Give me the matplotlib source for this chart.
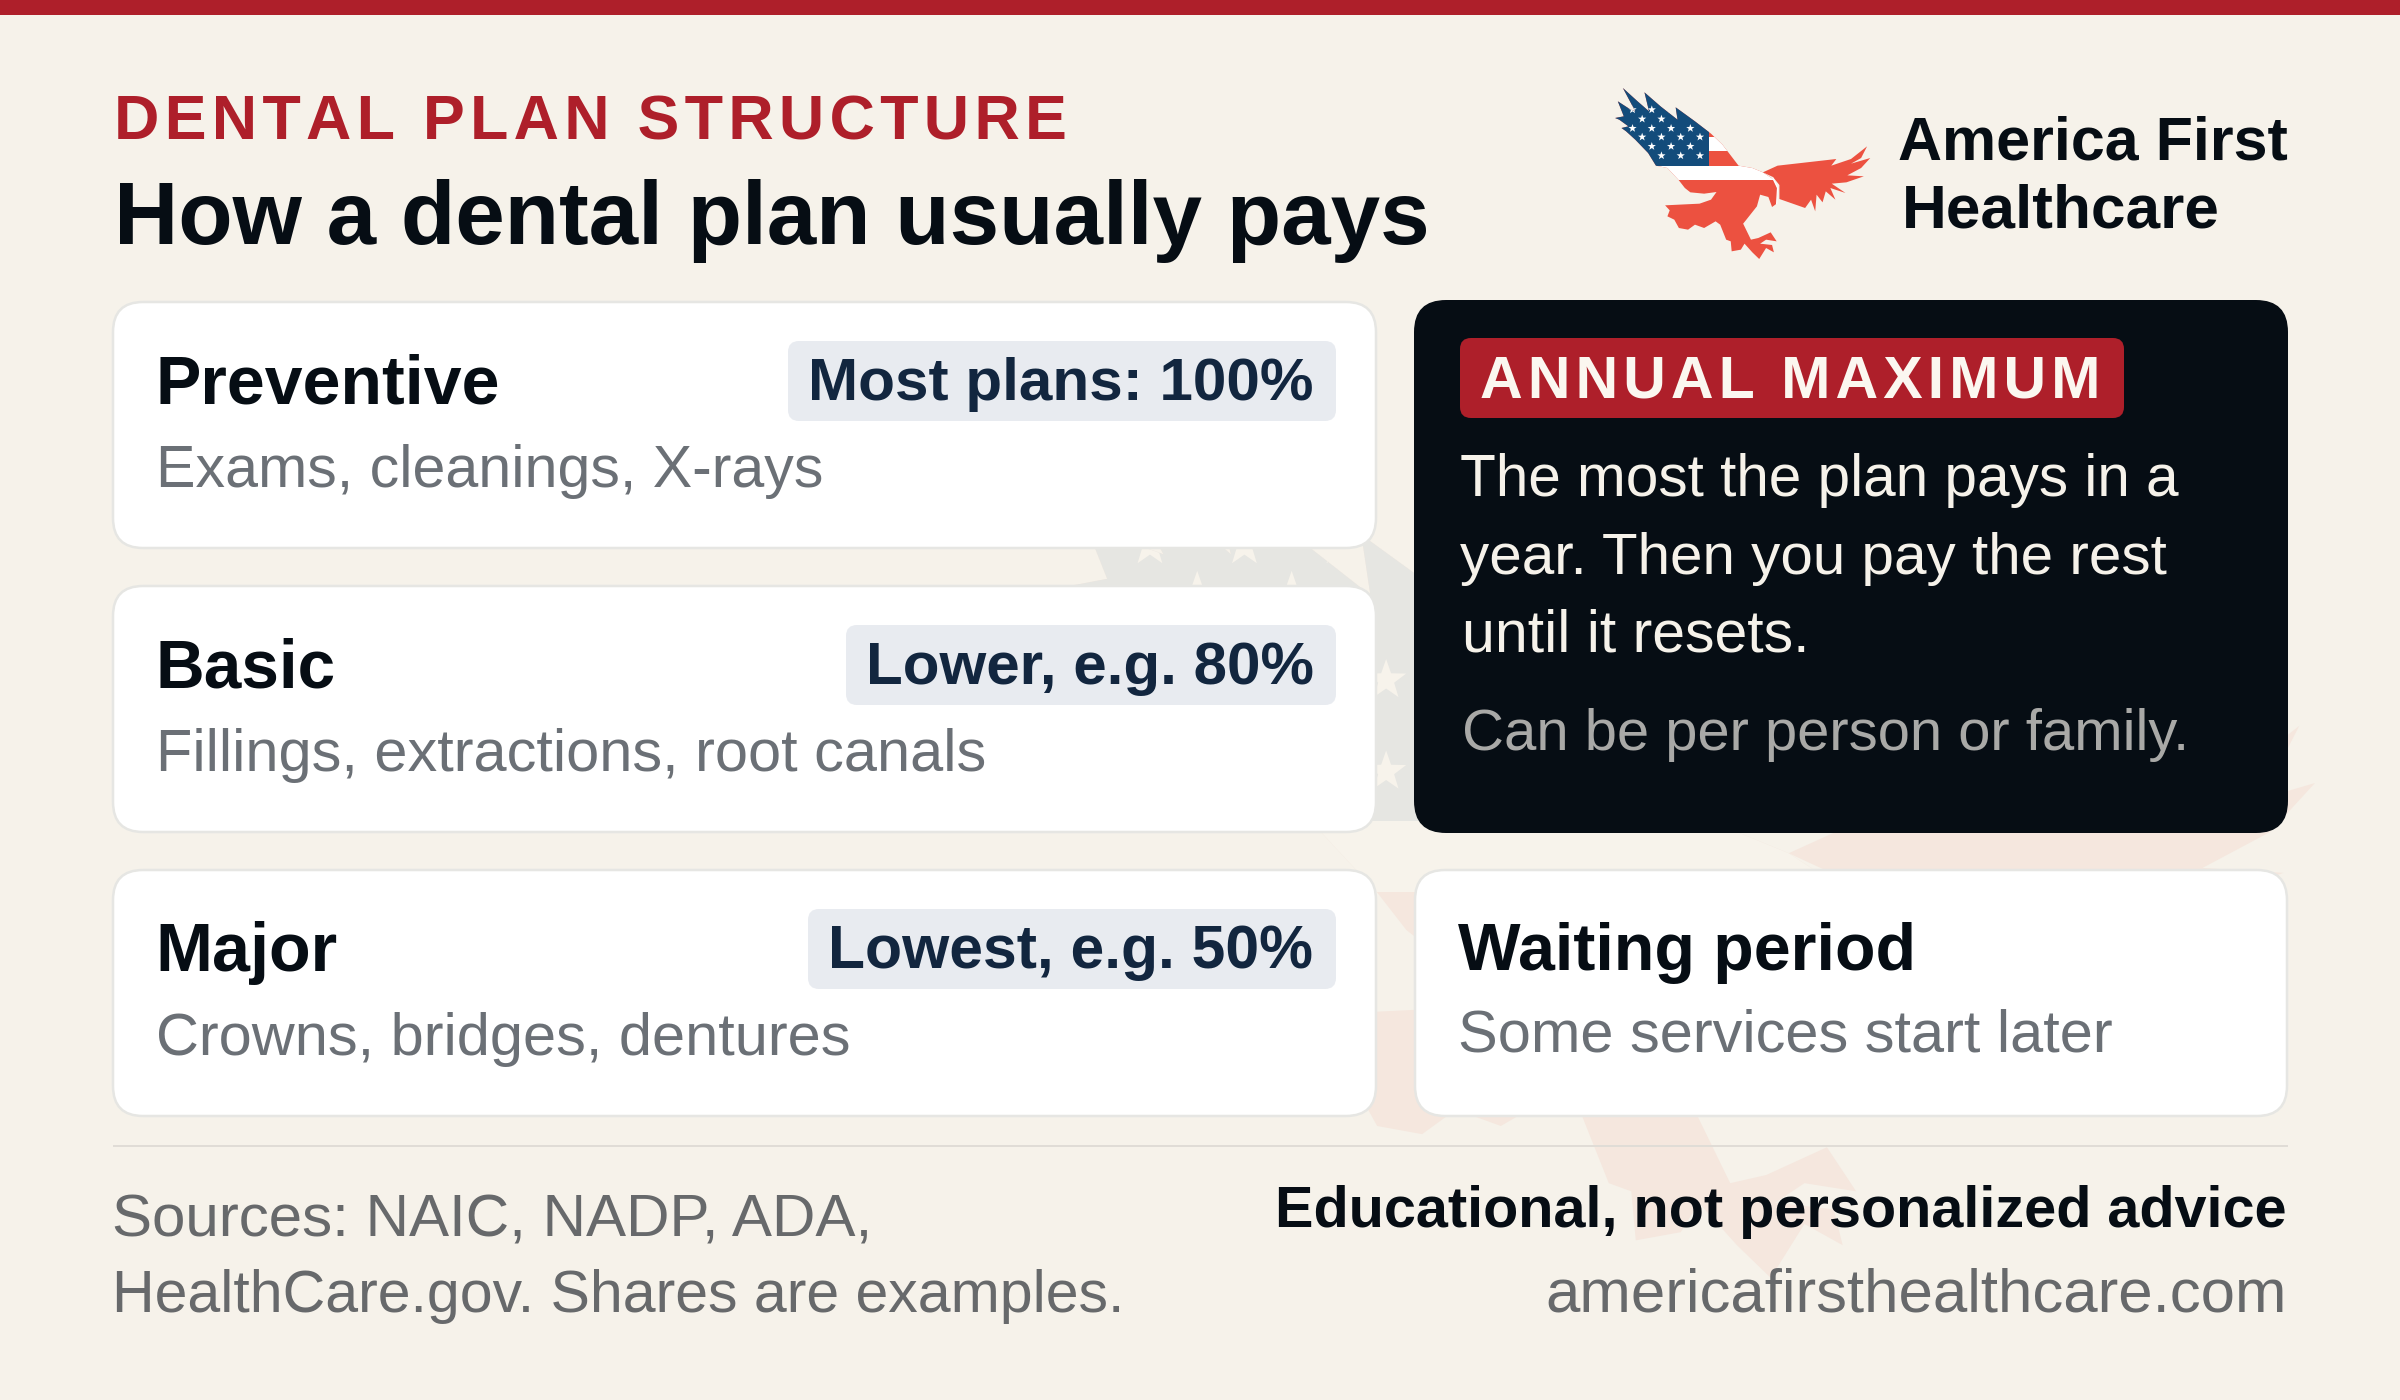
import matplotlib
matplotlib.use("Agg")
import matplotlib.pyplot as plt
from matplotlib.patches import FancyBboxPatch, Rectangle, Polygon
from matplotlib.lines import Line2D
from matplotlib.colors import to_rgb
import numpy as np

# ---------- content ----------
eyebrow = "DENTAL PLAN STRUCTURE"
title = "How a dental plan usually pays"
brand_lines = ["America First", "Healthcare"]
tier_names = ["Preventive", "Basic", "Major"]
tier_services = ["Exams, cleanings, X-rays", "Fillings, extractions, root canals", "Crowns, bridges, dentures"]
tier_shares = ["Most plans: 100%", "Lower, e.g. 80%", "Lowest, e.g. 50%"]
callout_tag = "ANNUAL MAXIMUM"
callout_lines = ["The most the plan pays in a", "year. Then you pay the rest", "until it resets."]
callout_note = "Can be per person or family."
waiting_name = "Waiting period"
waiting_text = "Some services start later"
source_lines = ["Sources: NAIC, NADP, ADA,", "HealthCare.gov. Shares are examples."]
disclaimer = "Educational, not personalized advice"
website = "americafirsthealthcare.com"

# ---------- style ----------
BG = "#F6F2EA"; RED = "#AE1F2A"; INK = "#060D14"; NAVY = "#12263F"; PILL = "#E8EBF0"
GREY = "#6B7076"; EDGE = "#E6E6E3"; BLUE = "#134C7B"; CORAL = "#EC5140"
FONT = ["Liberation Sans", "DejaVu Sans"]

fig = plt.figure(figsize=(24, 14), dpi=100, facecolor=BG)
ax = fig.add_axes([0, 0, 1, 1])
ax.set_xlim(0, 2400); ax.set_ylim(1400, 0); ax.axis("off")
renderer = fig.canvas.get_renderer()


def text(x0, x1, base, s, color, weight="normal", anchor="left", z=10):
    """Real text on a baseline, sized so it runs from x0 to x1."""
    x = x0 - 0.5 if anchor == "left" else x1 + 2
    t = ax.text(x, base, s, color=color, fontweight=weight, family=FONT, fontsize=40,
                ha=anchor, va="baseline", zorder=z)
    w = t.get_window_extent(renderer).width
    t.set_fontsize(40 * (x1 - x0 + 2) / w)
    return t


def spaced(s):
    return "\u200a".join(s)


def box(x0, y0, x1, y1, r, fc, ec="none", lw=0, z=5):
    ax.add_patch(FancyBboxPatch((x0, y0), x1 - x0, y1 - y0, boxstyle=f"round,pad=0,rounding_size={r}",
                                fc=fc, ec=ec, lw=lw, zorder=z))


# ---------- eagle ----------
WING_BODY = [(76,175),(95,170),(82,125),(110,150),(120,155),(93,85),(125,125),(150,155),(140,98),(175,140),
             (212,180),(208,143),(250,185),(285,222),(310,255),(345,318),(375,325),(398,338),(420,358),(430,385),
             (428,432),(418,442),(410,412),(392,405),(385,440),(362,480),(355,492),(372,540),(388,535),(415,518),
             (428,545),(405,540),(392,552),(418,556),(422,578),(405,565),(390,598),(375,578),(358,552),(350,570),
             (330,575),(328,545),(318,540),(305,495),(295,485),(270,505),(250,495),(235,510),(215,505),(205,480),
             (190,470),(195,452),(185,437),(260,432),(285,420),(297,397),(270,402),(240,398),(228,385),(215,362),
             (190,325),(165,318),(148,280),(120,240),(100,215),(90,205),(105,200),(85,180)]
WING_RIGHT = [(398,338),(430,318),(558,298),(547,318),(590,298),(625,260),(612,295),(590,312),(632,295),(612,325),
              (582,347),(618,350),(580,368),(548,372),(578,400),(545,385),(556,420),(535,395),(528,428),(515,405),
              (512,455),(503,420),(490,445),(434,418),(434,376),(420,352)]
STARS = {150: (114,156,198), 178: (135,177), 206: (114,156,198,240), 232: (135,177,219,261),
         260: (156,198,240), 288: (177,219,261)}


def eagle(ox, oy, s, mix, z):
    bg = np.array(to_rgb(BG))
    col = lambda c: tuple(bg + (np.array(to_rgb(c)) - bg) * mix)
    X = lambda v: ox + (v - 78) * 0.459 * s
    Y = lambda v: oy + (v - 85) / 3 * s
    body = Polygon([(X(a), Y(b)) for a, b in WING_BODY], closed=True, fc=col(CORAL), ec="none", zorder=z)
    ax.add_patch(body)
    ax.add_patch(Polygon([(X(a), Y(b)) for a, b in WING_RIGHT], closed=True, fc=col(CORAL), ec="none", zorder=z + 0.4))

    def rect(a0, b0, a1, b1, c, dz=0.1):
        r = Rectangle((X(a0), Y(b0)), X(a1) - X(a0), Y(b1) - Y(b0), fc=col(c), ec="none", zorder=z + dz)
        ax.add_patch(r)
        r.set_clip_path(body)

    rect(60, 318, 440, 362, "white")
    rect(281, 232, 350, 275, "white")
    rect(60, 70, 281, 318, BLUE, 0.2)
    rad = 4.3 * s
    for b, cols in STARS.items():
        for a in cols:
            ang = np.pi / 2 + np.arange(10) * np.pi / 5
            rr = np.where(np.arange(10) % 2 == 0, rad, rad * 0.4)
            p = Polygon(np.c_[X(a) + rr * np.cos(ang), Y(b) - rr * np.sin(ang)], fc=col("white"), ec="none", zorder=z + 0.3)
            ax.add_patch(p)
            p.set_clip_path(body)
    neck = [(420, 356), (430, 385), (428, 432)]
    ax.add_line(Line2D([X(a) for a, _ in neck], [Y(b) for _, b in neck], color=col("white"),
                       lw=0.9 * s, zorder=z + 0.5))


eagle(1069, 440, 4.9, 0.07, 1)   # watermark
eagle(1616, 88, 1.0, 1.0, 6)     # logo

# ---------- header ----------
ax.add_patch(Rectangle((0, 0), 2400, 15, fc=RED, ec="none", zorder=4))
text(114, 1063, 139.5, spaced(eyebrow), RED, "bold")
text(114, 1426, 244, title, INK, "bold")
text(1899, 2286, 160, brand_lines[0], INK, "bold")
text(1902, 2217, 228, brand_lines[1], INK, "bold")

# ---------- tier cards ----------
card_tops = [302, 586, 870]
name_ends = [497, 334, 336]
service_ends = [821, 985, 848]
pill_lefts = [788, 846, 808]
for i in range(3):
    top = card_tops[i]
    box(113, top, 1376, top + 246, 30, "white", EDGE, 1.8)
    text(156, name_ends[i], top + 101, tier_names[i], INK, "bold")
    text(156, service_ends[i], top + 185, tier_services[i], GREY)
    box(pill_lefts[i], top + 39, 1336, top + 119, 11, PILL, z=6)
    text(pill_lefts[i] + 20, 1311, top + 98, tier_shares[i], NAVY, "bold")

# ---------- dark callout ----------
box(1414, 300, 2288, 833, 32, INK)
box(1460, 338, 2124, 418, 11, RED, z=6)
text(1481, 2098, 398, spaced(callout_tag), "#FBF7F0", "bold")
text(1461, 2178, 496, callout_lines[0], BG)
text(1461, 2165, 574, callout_lines[1], BG)
text(1462, 1808, 652, callout_lines[2], BG)
text(1462, 2188, 750, callout_note, "#A9A9A7")

# ---------- waiting card ----------
box(1415, 870, 2287, 1116, 30, "white", EDGE, 1.8)
text(1458, 1913, 970, waiting_name, INK, "bold")
text(1458, 2110, 1052, waiting_text, GREY)

# ---------- footer ----------
ax.add_patch(Rectangle((113, 1145), 2175, 2, fc="#E0DCD6", ec="none", zorder=3))
text(113, 871, 1237, source_lines[0], "#67696B")
text(113, 1122, 1312, source_lines[1], "#67696B")
text(1277, 2285, 1227, disclaimer, INK, "bold", "right")
text(1546, 2285, 1311, website, "#67696B", anchor="right")

fig.savefig("out.png", dpi=100, facecolor=BG)
